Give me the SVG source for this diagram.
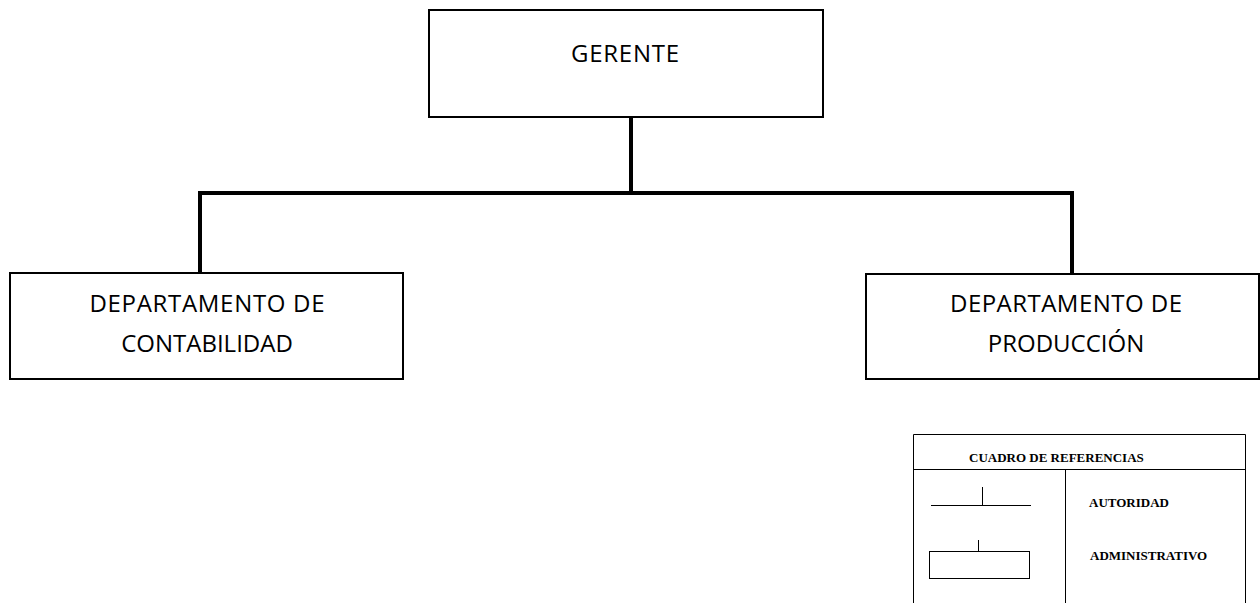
<svg xmlns="http://www.w3.org/2000/svg" width="1260" height="603" viewBox="0 0 1260 603">
<style>
.box{fill:#fff;stroke:#000;stroke-width:2}
.lbl{font-family:"Open Sans","Liberation Sans",sans-serif;font-size:24px;fill:#000;text-anchor:middle}
.conn{fill:none;stroke:#000;stroke-width:4}
.thin{fill:none;stroke:#000;stroke-width:1}
.ref{font-family:"Liberation Serif",serif;font-weight:bold;font-size:13px;fill:#000}
</style>
<rect width="1260" height="603" fill="#fff"/>
<g id="connectors">
<path class="conn" d="M631 117 V193"/>
<path class="conn" d="M200 273 V193 H1072 V273"/>
</g>
<g id="gerente">
<rect class="box" x="429" y="10" width="394" height="107"/>
<text class="lbl" x="625" y="62" textLength="108">GERENTE</text>
</g>
<g id="contabilidad">
<rect class="box" x="10" y="273" width="393" height="106"/>
<text class="lbl" x="207" y="312" textLength="235">DEPARTAMENTO DE</text>
<text class="lbl" x="207" y="352">CONTABILIDAD</text>
</g>
<g id="produccion">
<rect class="box" x="866" y="274" width="393" height="105"/>
<text class="lbl" x="1066" y="312" textLength="232">DEPARTAMENTO DE</text>
<text class="lbl" x="1066" y="352">PRODUCCIÓN</text>
</g>
<g id="referencias">
<path class="thin" d="M913.5 603 V434.5 H1245.5 V603"/>
<path class="thin" d="M913 469.5 H1246 M1065.5 469.5 V603"/>
<text class="ref" x="969" y="462">CUADRO DE REFERENCIAS</text>
<path class="thin" d="M931 505.5 H1031 M982.5 487 V505"/>
<text class="ref" x="1089" y="507">AUTORIDAD</text>
<rect class="thin" x="929.5" y="551.5" width="100" height="27"/>
<path class="thin" d="M978.5 540 V551"/>
<text class="ref" x="1090" y="560">ADMINISTRATIVO</text>
</g>
</svg>
